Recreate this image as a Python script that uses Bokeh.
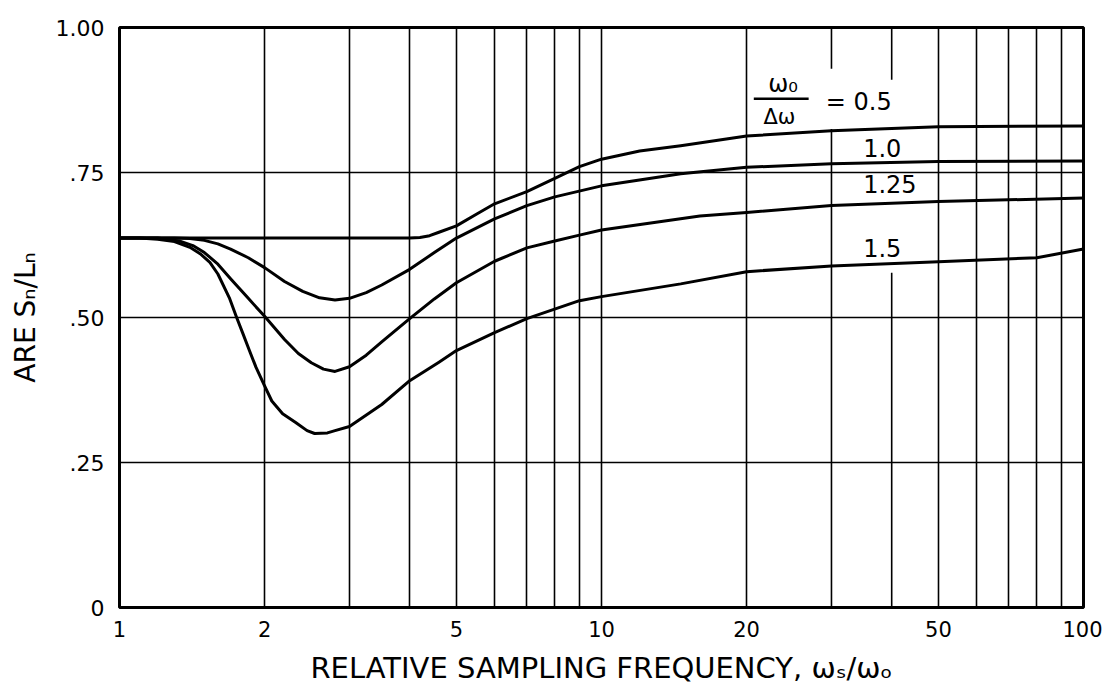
from bokeh.plotting import figure
from bokeh.models import Range1d, FixedTicker, Label, PrintfTickFormatter
from bokeh.embed import file_html
from bokeh.resources import INLINE

# ---------------- data ----------------
# omega0/delta-omega = 0.5
x_r05 = [1, 1.5, 2, 3, 4, 4.2, 4.4, 4.6, 5, 5.5, 6, 7, 8, 9, 10, 12, 14.6, 20, 30, 50, 100]
y_r05 = [0.637, 0.637, 0.637, 0.637, 0.637, 0.638, 0.641, 0.647, 0.658, 0.678, 0.696, 0.717, 0.740,
         0.760, 0.773, 0.787, 0.796, 0.813, 0.822, 0.829, 0.830]
# omega0/delta-omega = 1.0
x_r10 = [1, 1.3, 1.4, 1.5, 1.6, 1.7, 1.85, 2, 2.2, 2.4, 2.6, 2.8, 3, 3.25, 3.5, 4, 4.5, 5, 6, 7, 8,
         10, 14.6, 20, 30, 50, 100]
y_r10 = [0.637, 0.637, 0.636, 0.633, 0.627, 0.618, 0.603, 0.586, 0.562, 0.545, 0.534, 0.530, 0.533,
         0.543, 0.556, 0.583, 0.612, 0.637, 0.670, 0.693, 0.708, 0.727, 0.748, 0.759, 0.765, 0.769, 0.770]
# omega0/delta-omega = 1.25
x_r125 = [1, 1.2, 1.33, 1.42, 1.5, 1.6, 1.7, 1.85, 2, 2.2, 2.35, 2.5, 2.65, 2.8, 3, 3.25, 3.5, 4, 4.5,
          5, 6, 7, 8, 9, 10, 16, 20, 30, 50, 100]
y_r125 = [0.637, 0.637, 0.632, 0.624, 0.612, 0.592, 0.567, 0.533, 0.502, 0.462, 0.438, 0.422, 0.411,
          0.407, 0.415, 0.435, 0.458, 0.498, 0.532, 0.560, 0.597, 0.620, 0.632, 0.642, 0.651, 0.675,
          0.681, 0.693, 0.700, 0.706]
# omega0/delta-omega = 1.5
x_r15 = [1, 1.1, 1.2, 1.3, 1.4, 1.47, 1.54, 1.6, 1.69, 1.75, 1.8, 1.86, 1.92, 2, 2.07, 2.18, 2.32,
         2.45, 2.54, 2.7, 2.8, 3, 3.5, 4, 4.6, 5, 6, 7, 9, 10, 14.6, 20, 30, 50, 80, 100]
y_r15 = [0.637, 0.637, 0.635, 0.631, 0.621, 0.610, 0.595, 0.575, 0.534, 0.500, 0.474, 0.443, 0.414,
         0.382, 0.356, 0.334, 0.319, 0.305, 0.300, 0.301, 0.305, 0.312, 0.350, 0.391, 0.423, 0.443,
         0.474, 0.498, 0.529, 0.536, 0.558, 0.579, 0.589, 0.596, 0.603, 0.618]

x_ticks = [1, 2, 5, 10, 20, 50, 100]
y_ticks = [0, 0.25, 0.5, 0.75, 1.0]
y_tick_labels = ["0", ".25", ".50", ".75", "1.00"]
x_grid = [2, 3, 4, 5, 6, 7, 8, 9, 10, 20, 50, 60, 70, 80, 90]
y_grid = [0.25, 0.5, 0.75]
# grid lines interrupted by the curve labels
x_grid_cut = [30, 30, 40, 40]
y_grid_cut_from = [1.0, 0.825, 1.0, 0.577]
y_grid_cut_to = [0.929, 0.0, 0.91, 0.0]

ratio_labels = ["1.0", "1.25", "1.5"]
ratio_label_y = [0.793, 0.730, 0.619]

# ---------------- figure ----------------
FONT = "DejaVu Sans"
p = figure(width=1102, height=690, x_axis_type="log",
           x_range=Range1d(1, 100), y_range=Range1d(0, 1),
           output_backend="svg", toolbar_location=None,
           min_border_left=119, min_border_right=19,
           min_border_top=27, min_border_bottom=83)
p.background_fill_color = "white"
p.border_fill_color = "white"
p.outline_line_color = "black"
p.outline_line_width = 3

p.xgrid.ticker = FixedTicker(ticks=x_grid)
p.ygrid.ticker = FixedTicker(ticks=y_grid)
for g in (p.xgrid, p.ygrid):
    g.grid_line_color = "black"
    g.grid_line_width = 1.6
    g.grid_line_alpha = 1.0

p.segment(x0=x_grid_cut, y0=y_grid_cut_from, x1=x_grid_cut, y1=y_grid_cut_to,
          line_color="black", line_width=1.6)

for ax in (p.xaxis[0], p.yaxis[0]):
    ax.axis_line_color = None
    ax.major_tick_line_color = None
    ax.minor_tick_line_color = None
    ax.major_label_text_font = FONT
    ax.major_label_text_color = "black"
    ax.axis_label_text_font = FONT
    ax.axis_label_text_font_style = "normal"
    ax.axis_label_text_color = "black"

p.xaxis.ticker = FixedTicker(ticks=x_ticks)
p.xaxis.formatter = PrintfTickFormatter(format="%d")
p.xaxis.major_label_text_font_size = "21px"
p.xaxis.major_label_standoff = 7
p.xaxis.axis_label = "RELATIVE SAMPLING FREQUENCY, ωₛ/ωₒ"
p.xaxis.axis_label_text_font_size = "29px"
p.xaxis.axis_label_standoff = 11

p.yaxis.ticker = FixedTicker(ticks=y_ticks)
p.yaxis.major_label_overrides = dict(zip(y_ticks, y_tick_labels))
p.yaxis.major_label_text_font_size = "22px"
p.yaxis.major_label_standoff = 9
p.yaxis.axis_label = "ARE Sₙ/Lₙ"
p.yaxis.axis_label_text_font_size = "28px"
p.yaxis.axis_label_standoff = 11

for xs, ys in ((x_r05, y_r05), (x_r10, y_r10), (x_r125, y_r125), (x_r15, y_r15)):
    p.line(xs, ys, line_color="black", line_width=3, line_join="round")

# ---------------- curve labels ----------------
p.add_layout(Label(x=23.8, y=0.903, text="ω₀", text_font=FONT, text_font_size="24px",
                   text_align="center", text_baseline="middle", text_color="black"))
p.segment(x0=[20.7], y0=[0.877], x1=[26.9], y1=[0.877], line_color="black", line_width=2.5)
p.add_layout(Label(x=23.4, y=0.846, text="Δω", text_font=FONT, text_font_size="21px",
                   text_align="center", text_baseline="middle", text_color="black"))
p.add_layout(Label(x=29.2, y=0.872, text="= 0.5", text_font=FONT, text_font_size="24px",
                   text_align="left", text_baseline="middle", text_color="black"))
for txt, yy in zip(ratio_labels, ratio_label_y):
    p.add_layout(Label(x=34.9, y=yy, text=txt, text_font=FONT, text_font_size="24px",
                       text_align="left", text_baseline="middle", text_color="black"))

open("out.html", "w").write(file_html(p, INLINE))
